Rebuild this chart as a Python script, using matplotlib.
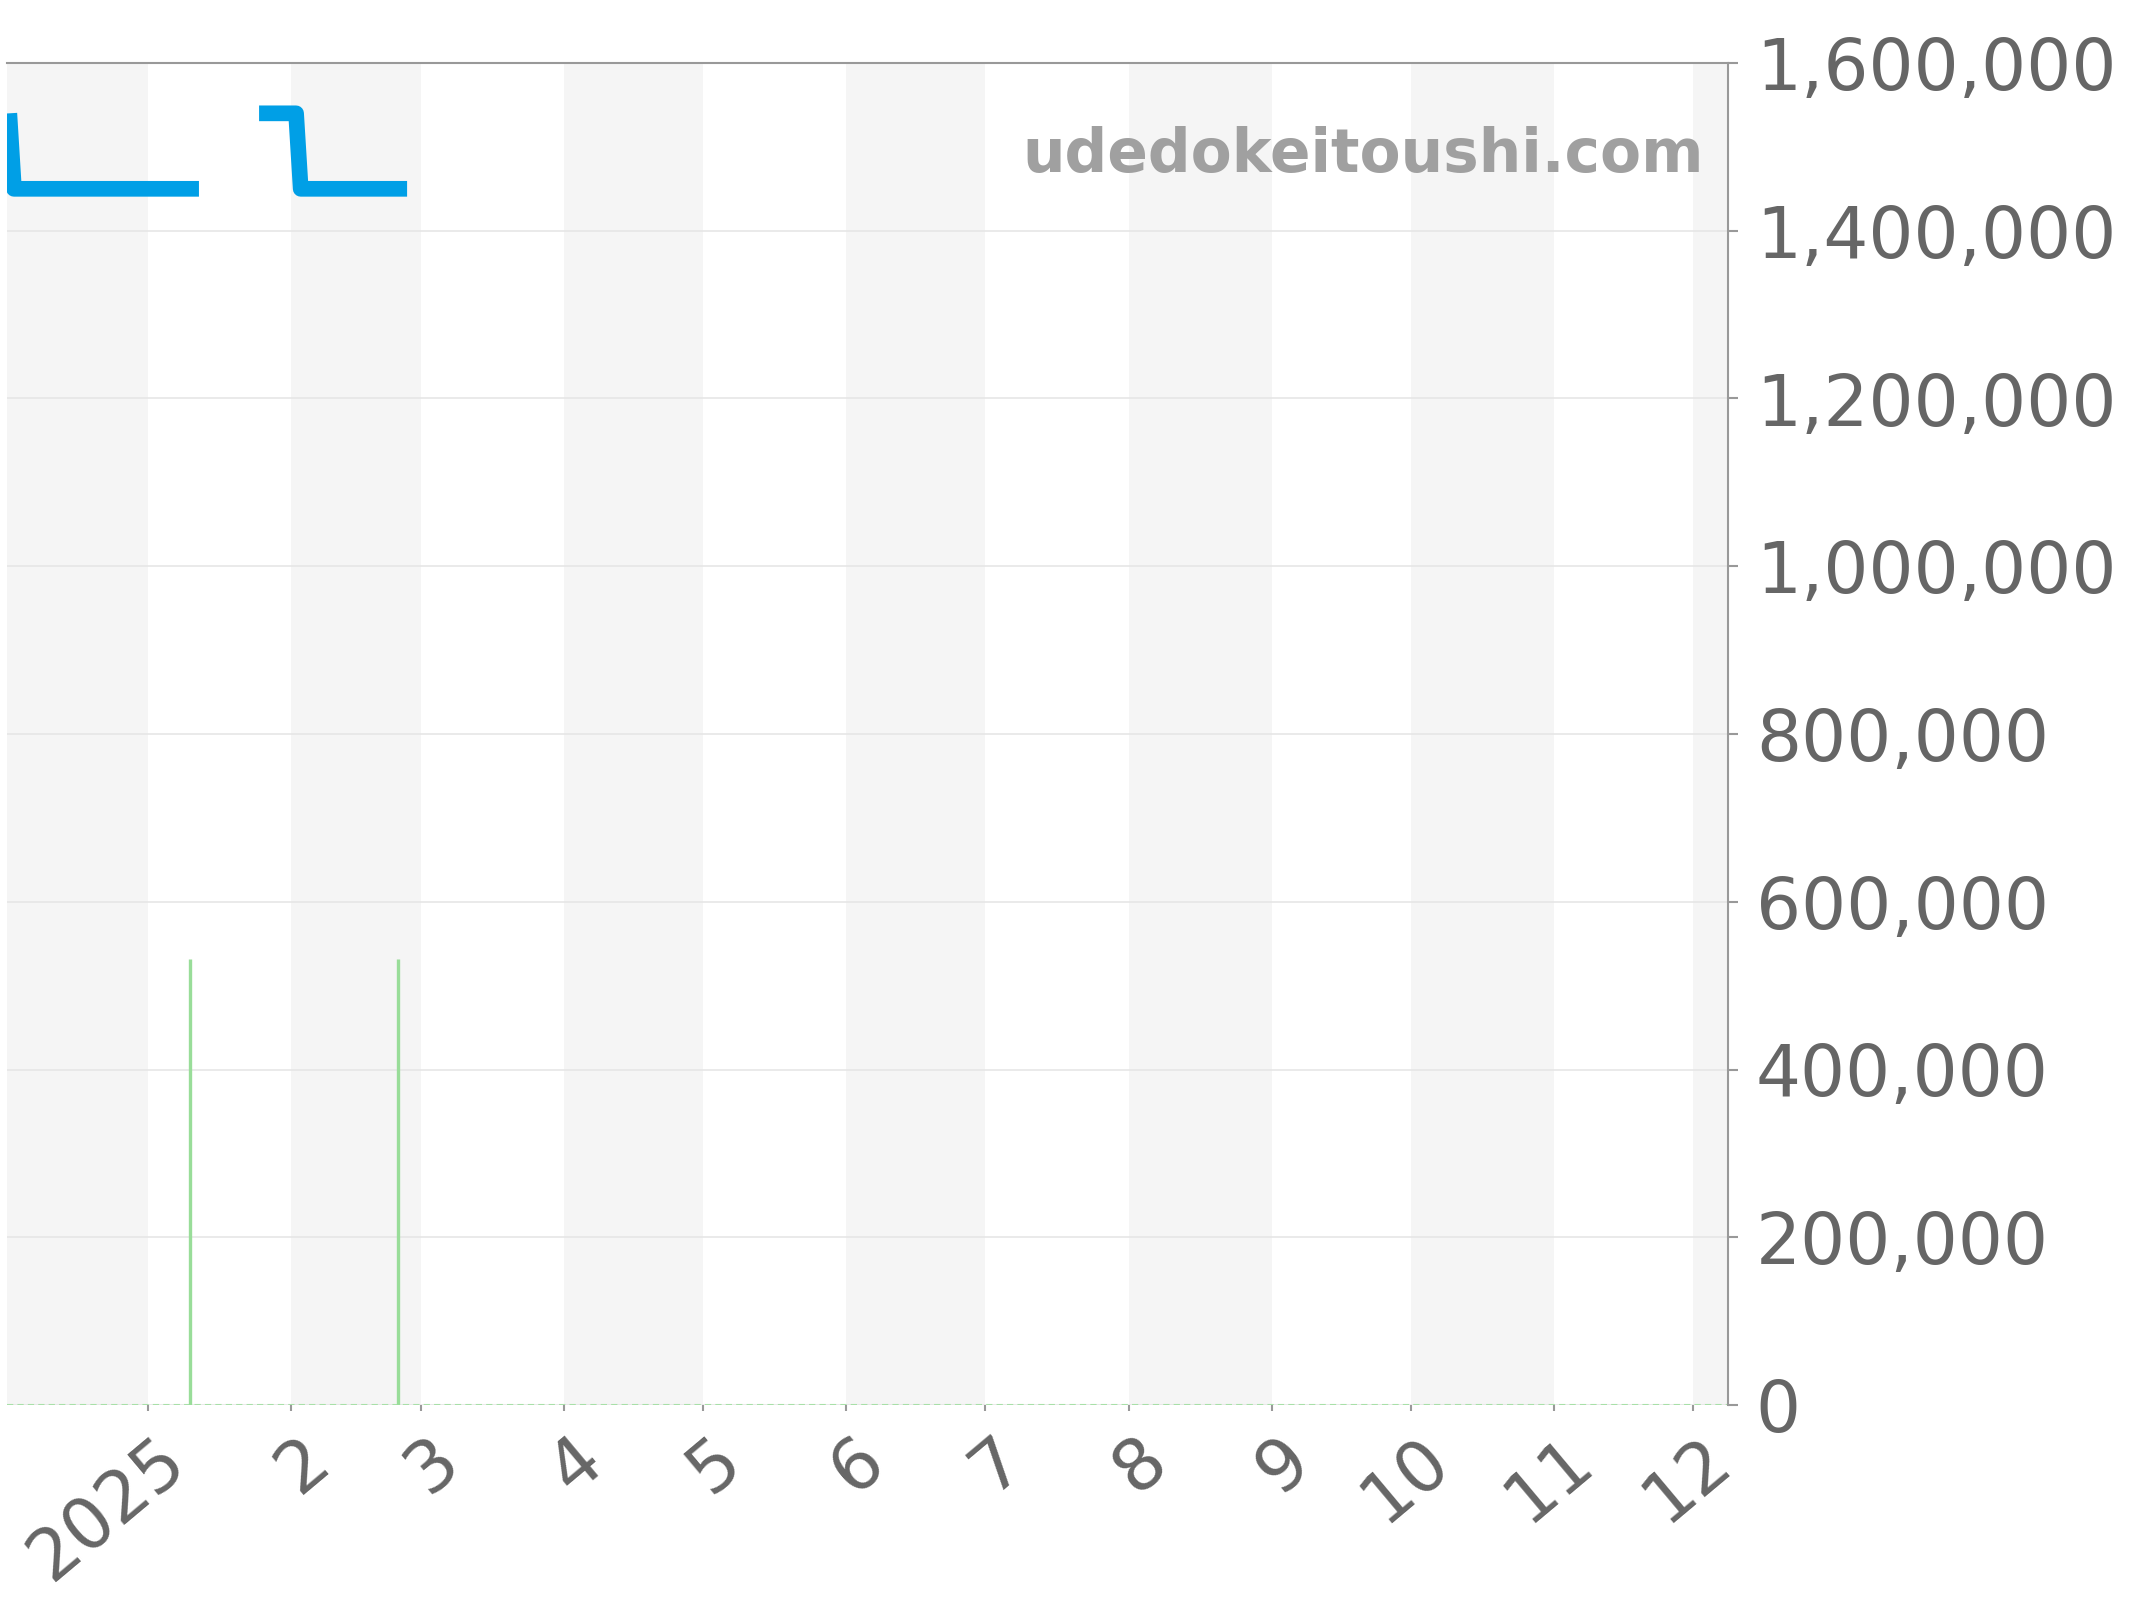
import matplotlib
matplotlib.use("Agg")
import matplotlib.pyplot as plt
import matplotlib.dates as mdates
from matplotlib.transforms import ScaledTranslation
import numpy as np
import pandas as pd

# price series (NaN = no data, breaks the line)
price_dates = ["2024-12-02", "2024-12-03", "2025-01-12", "2025-01-18",
               "2025-01-25", "2025-02-02", "2025-02-03", "2025-02-26"]
price_values = [1540000, 1450000, 1450000, np.nan,
                1540000, 1540000, 1450000, 1450000]

# green spikes
spike_dates = ["2025-01-10", "2025-02-24"]
spike_values = [532000, 532000]

month_starts = pd.date_range("2025-01-01", "2025-12-01", freq="MS")
month_labels = ["2025", "2", "3", "4", "5", "6", "7", "8", "9", "10", "11", "12"]
shaded_months = ["2024-12", "2025-02", "2025-04", "2025-06", "2025-08", "2025-10", "2025-12"]
y_ticks = [0, 200000, 400000, 600000, 800000, 1000000, 1200000, 1400000, 1600000]

x_start = pd.Timestamp("2024-12-01 12:00")
x_end = pd.Timestamp("2025-12-08 14:00")

fig = plt.figure(figsize=(21.44, 16), dpi=100)
ax = fig.add_axes([7 / 2144, 1 - 1405 / 1600, (1728 - 7) / 2144, (1405 - 63) / 1600])

for m in shaded_months:
    p = pd.Period(m, freq="M")
    ax.axvspan(p.start_time, p.end_time, color="#f5f5f5", lw=0, zorder=0)

ax.set_yticks(y_ticks)
ax.grid(axis="y", color="#e6e6e6", lw=1.2, zorder=1)
ax.set_axisbelow(True)

ax.axhline(0, color="#a8e0a8", lw=1.5, ls=(0, (3, 2)), zorder=2)
ax.vlines(pd.to_datetime(spike_dates), 0, spike_values, color="#99dd99", lw=2.4, zorder=3)

ax.plot(pd.to_datetime(price_dates), price_values, color="#009fe6", lw=11.3,
        solid_joinstyle="round", solid_capstyle="butt", zorder=4)

ax.set_xlim(x_start, x_end)
ax.set_ylim(0, 1600000)

ax.yaxis.tick_right()
ax.yaxis.set_major_formatter(matplotlib.ticker.FuncFormatter(lambda v, p: f"{v:,.0f}"))
ax.set_xticks(month_starts)
ax.set_xticklabels(month_labels)

for s in ["left", "bottom"]:
    ax.spines[s].set_visible(False)
for s in ["top", "right"]:
    ax.spines[s].set_color("#999999")
    ax.spines[s].set_linewidth(1.5)

ax.tick_params(axis="y", which="both", right=True, left=False, length=7, width=1.5,
               color="#999999", labelcolor="#666666", labelsize=51, pad=13)
ax.tick_params(axis="x", length=4, width=1.5, color="#999999",
               labelcolor="#666666", labelsize=51, pad=10)

offset = ScaledTranslation(7 / 100, 0, fig.dpi_scale_trans)
for lab in ax.get_xticklabels():
    lab.set_rotation(40)
    lab.set_rotation_mode("anchor")
    lab.set_ha("right")
    lab.set_va("top")
    lab.set_transform(lab.get_transform() + offset)

ax.text(0.9862, 0.9188, "udedokeitoushi.com", transform=ax.transAxes, ha="right",
        va="baseline", fontsize=43, fontweight="bold", color="#a0a0a0", zorder=5)

fig.savefig("out.png", dpi=100)
